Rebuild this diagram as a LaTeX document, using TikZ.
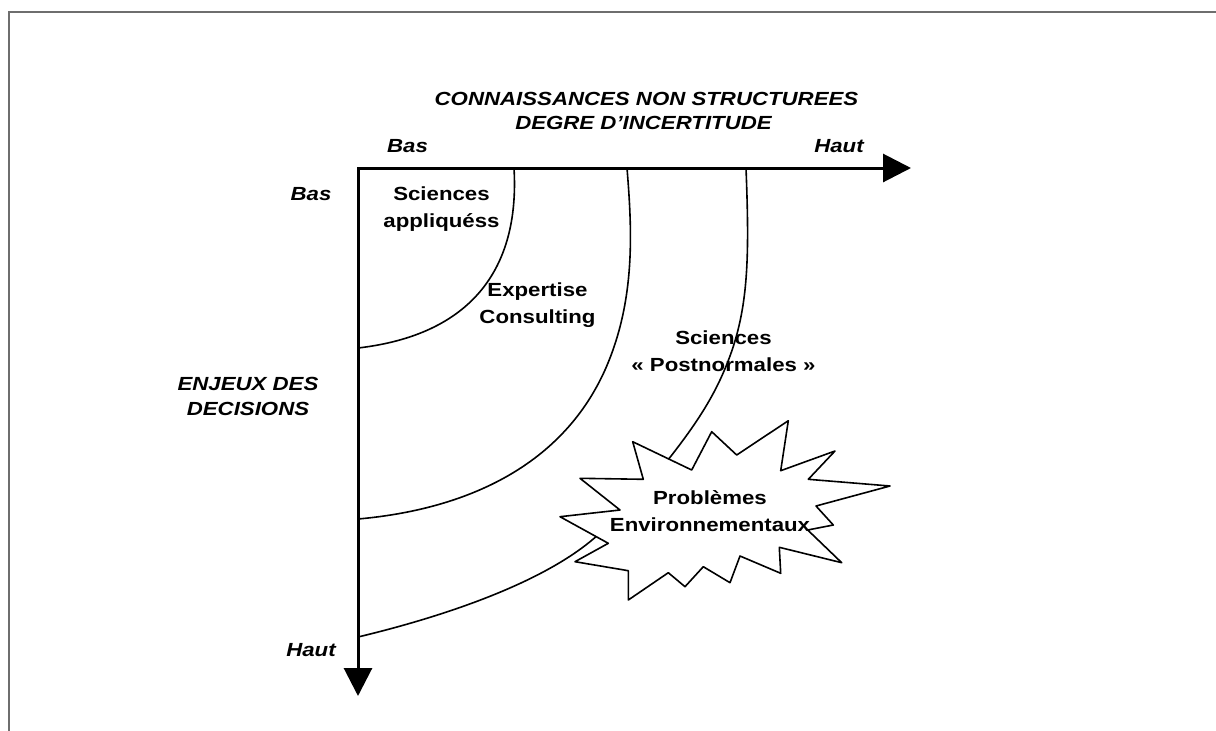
\documentclass[tikz,border=0pt]{standalone}
\usepackage{fontspec}
\setmainfont[FakeStretch=1.17]{Liberation Sans}
\usetikzlibrary{arrows.meta}
\definecolor{framegray}{HTML}{6E6E6E}
\newcommand{\twoline}[2]{\vtop{\halign{\hfil##\hfil\cr#1\cr#2\cr}}}
\begin{document}
\begin{tikzpicture}[x=1pt,y=-1pt,
  lbl/.style={font=\fontsize{19}{27}\selectfont\bfseries, inner sep=0pt, anchor=base},
  ilbl/.style={font=\fontsize{19}{27}\selectfont\bfseries\itshape, inner sep=0pt, anchor=base},
  axis/.style={line width=3pt, {Triangle[length=28pt,width=28pt]}-{Triangle[length=28pt,width=28pt]}},
  bound/.style={line width=1.6pt, line join=round},
  frameline/.style={draw=framegray, line width=2pt}
]
\useasboundingbox (0,0) rectangle (1216,731);
% frame
\coordinate (fr1) at (1216,12);
\coordinate (fr2) at (9,12);
\coordinate (fr3) at (9,731);
\draw[frameline] (fr1) -- (fr2) -- (fr3);

% boundaries
\coordinate (c1a) at (514,168); \coordinate (c1b) at (358,348);
\draw[bound] (c1a) .. controls (520,270) and (470,335) .. (c1b);
\coordinate (c2a) at (627,168); \coordinate (c2b) at (358,519);
\draw[bound] (c2a) .. controls (632,230) and (636,300) .. (605,370)
  .. controls (560,470) and (460,510) .. (c2b);
\coordinate (c3a) at (746,168); \coordinate (c3b) at (660,470);
\draw[bound] (c3a) .. controls (750,270) and (748,320) .. (720,380)
  .. controls (705,412) and (684,440) .. (c3b);
\coordinate (c4a) at (358,637); \coordinate (c4b) at (600,533);
\draw[bound] (c4a) .. controls (450,615) and (550,580) .. (c4b);

% axes
\coordinate (O) at (358,168);
\coordinate (XT) at (911,168);
\coordinate (YT) at (358,696);
\draw[axis] (XT) -- (O) -- (YT);

% star
\draw[bound, fill=white] (632.7,441.7) -- (691.7,470) -- (711.7,431.7) -- (736.7,455)
  -- (788.3,420.7) -- (780.7,470.7) -- (835,451) -- (808.3,479.3) -- (890,486)
  -- (816,506) -- (833.3,525) -- (807.7,530) -- (841.7,562.7) -- (779.3,547.3)
  -- (780.7,573.3) -- (740,556) -- (730,582.7) -- (703.3,566.7) -- (685,586.7)
  -- (668.3,572.7) -- (628.3,600) -- (628.3,570.7) -- (575,561.7) -- (608.3,543.3)
  -- (560,516.7) -- (620,510) -- (580,478.3) -- (643.3,479.3) -- cycle;

% texts
\node[ilbl] (t1) at (646.5,105) {CONNAISSANCES NON STRUCTUREES};
\node[ilbl] (t2) at (643.5,129) {DEGRE D’INCERTITUDE};
\node[ilbl] (xbas) at (407.5,152.5) {Bas};
\node[ilbl] (xhaut) at (839,152) {Haut};
\node[ilbl] (ybas) at (311,200.7) {Bas};
\node[ilbl] (yhaut) at (311,656) {Haut};
\node[ilbl, font=\fontsize{19}{25}\selectfont\bfseries\itshape] (enj) at (248,390) {\twoline{ENJEUX DES}{DECISIONS}};
\node[lbl] (sa) at (441.5,200.7) {\twoline{Sciences}{appliquéss}};
\node[lbl] (ec) at (537.5,296.7) {\twoline{Expertise}{Consulting}};
\node[lbl] (sp) at (723.5,344) {\twoline{Sciences}{« Postnormales »}};
\node[lbl] (pe) at (710,504) {\twoline{Problèmes}{Environnementaux}};
\end{tikzpicture}
\end{document}
